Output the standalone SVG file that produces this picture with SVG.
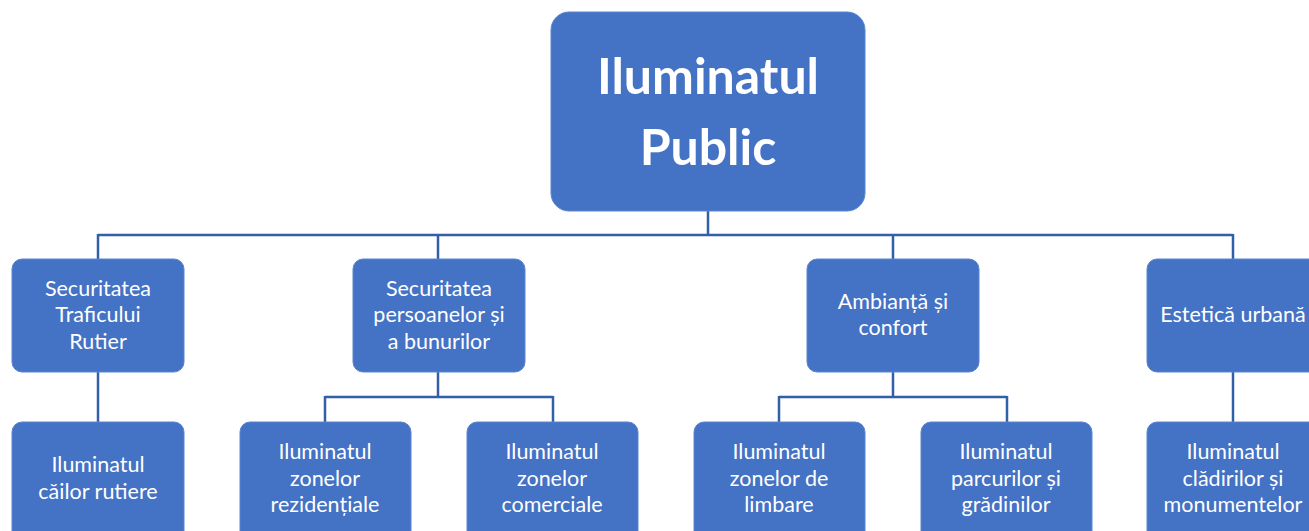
<svg xmlns="http://www.w3.org/2000/svg" width="1309" height="531" viewBox="0 0 1309 531">
<style>
.box{fill:#4472C4;stroke:#5B85CF;stroke-width:1}
.t{font-family:Lato,"Open Sans","Liberation Sans",sans-serif;fill:#ffffff;text-anchor:middle;font-size:21.5px}
.root{font-family:Lato,"Open Sans","Liberation Sans",sans-serif;fill:#ffffff;text-anchor:middle;font-size:50px;font-weight:bold}
.c{fill:none;stroke:#3060A8;stroke-width:2.5}
</style>
<rect width="1309" height="531" fill="#ffffff"/>
<g id="connectors">
<path class="c" d="M708 211V235M98 235H1233M98 234V259M438 234V259M893 234V259M1233 234V259"/>
<path class="c" d="M98 372V422"/>
<path class="c" d="M438 372V397M325 397H553M325 396V422M553 396V422"/>
<path class="c" d="M893 372V397M779 397H1007M779 396V422M1007 396V422"/>
<path class="c" d="M1233 372V422"/>
</g>
<g id="root">
<rect class="box" x="551" y="12" width="314" height="199" rx="18"/>
<text class="root" x="708" y="94">Iluminatul</text>
<text class="root" x="708" y="165">Public</text>
</g>
<g id="n1">
<rect class="box" x="12" y="259" width="172" height="113" rx="10"/>
<text class="t" x="98" y="296">Securitatea</text>
<text class="t" x="98" y="322">Traficului</text>
<text class="t" x="98" y="349">Rutier</text>
</g>
<g id="n2">
<rect class="box" x="353" y="259" width="172" height="113" rx="10"/>
<text class="t" x="439" y="296">Securitatea</text>
<text class="t" x="439" y="322">persoanelor și</text>
<text class="t" x="439" y="349">a bunurilor</text>
</g>
<g id="n3">
<rect class="box" x="807" y="259" width="172" height="113" rx="10"/>
<text class="t" x="893" y="309">Ambianță și</text>
<text class="t" x="893" y="335">confort</text>
</g>
<g id="n4">
<rect class="box" x="1147" y="259" width="172" height="113" rx="10"/>
<text class="t" x="1233" y="322">Estetică urbană</text>
</g>
<g id="n1a">
<rect class="box" x="12" y="422" width="172" height="120" rx="10"/>
<text class="t" x="98" y="472">Iluminatul</text>
<text class="t" x="98" y="499">căilor rutiere</text>
</g>
<g id="n2a">
<rect class="box" x="240" y="422" width="171" height="120" rx="10"/>
<text class="t" x="325" y="459">Iluminatul</text>
<text class="t" x="325" y="486">zonelor</text>
<text class="t" x="325" y="512">rezidențiale</text>
</g>
<g id="n2b">
<rect class="box" x="467" y="422" width="171" height="120" rx="10"/>
<text class="t" x="552" y="459">Iluminatul</text>
<text class="t" x="552" y="486">zonelor</text>
<text class="t" x="552" y="512">comerciale</text>
</g>
<g id="n3a">
<rect class="box" x="694" y="422" width="171" height="120" rx="10"/>
<text class="t" x="779" y="459">Iluminatul</text>
<text class="t" x="779" y="486">zonelor de</text>
<text class="t" x="779" y="512">limbare</text>
</g>
<g id="n3b">
<rect class="box" x="921" y="422" width="171" height="120" rx="10"/>
<text class="t" x="1006" y="459">Iluminatul</text>
<text class="t" x="1006" y="486">parcurilor și</text>
<text class="t" x="1006" y="512">grădinilor</text>
</g>
<g id="n4a">
<rect class="box" x="1147" y="422" width="172" height="120" rx="10"/>
<text class="t" x="1233" y="459">Iluminatul</text>
<text class="t" x="1233" y="486">clădirilor și</text>
<text class="t" x="1233" y="512">monumentelor</text>
</g>
</svg>
